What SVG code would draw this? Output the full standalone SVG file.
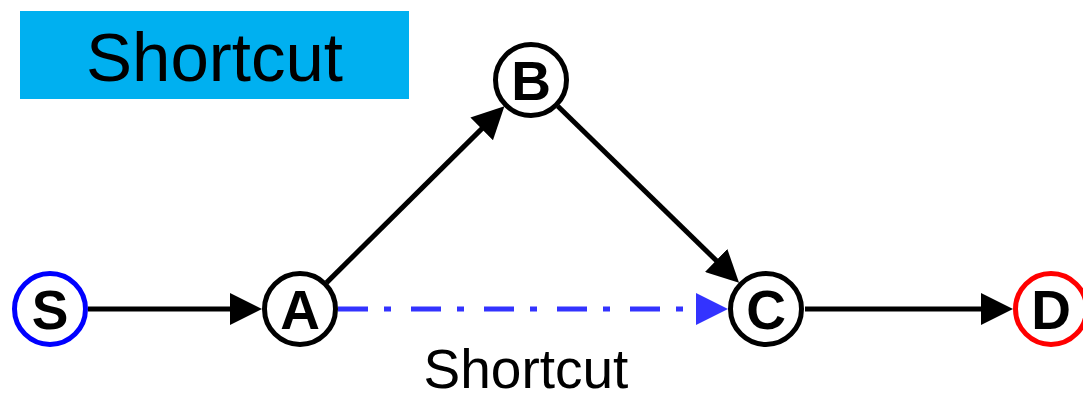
<svg xmlns="http://www.w3.org/2000/svg" width="1083" height="393" viewBox="0 0 1083 393">
<style>
.node circle{fill:#fff;stroke-width:5}
.node text{font-family:"Liberation Sans",Arial,sans-serif;font-weight:bold;font-size:55px;text-anchor:middle;fill:#000}
.edge{stroke:#000;stroke-width:5;fill:none}
.short{stroke:#3333FF;stroke-width:5;fill:none;stroke-dasharray:30 16 7 20}
.lbl{font-family:"Liberation Sans",Arial,sans-serif;fill:#000;text-anchor:middle}
</style>
<defs>
<marker id="ah" markerUnits="userSpaceOnUse" markerWidth="32" markerHeight="32" viewBox="0 0 32 32" refX="22" refY="16" orient="auto"><path d="M0,0 L32,16 L0,32 z" fill="#000"/></marker>
<marker id="ahb" markerUnits="userSpaceOnUse" markerWidth="32" markerHeight="32" viewBox="0 0 32 32" refX="22" refY="16" orient="auto"><path d="M0,0 L32,16 L0,32 z" fill="#3333FF"/></marker>
</defs>
<g id="title">
<rect x="20" y="11" width="389" height="88" fill="#00B0F0"/>
<text class="lbl" x="214.5" y="81" font-size="69">Shortcut</text>
</g>
<g id="connectors">
<line class="edge" x1="88" y1="309" x2="252" y2="309" marker-end="url(#ah)"/>
<path class="edge" d="M326.6,282.6 L497.3,113.4" marker-end="url(#ah)"/>
<path class="edge" d="M557.9,106.2 L731.9,275.8" marker-end="url(#ah)"/>
<line class="short" x1="338" y1="309" x2="718" y2="309" marker-end="url(#ahb)"/>
<line class="edge" x1="805" y1="309" x2="1003" y2="309" marker-end="url(#ah)"/>
</g>
<text id="shortcut-label" class="lbl" x="526" y="388" font-size="55">Shortcut</text>
<g id="node-S" class="node"><circle cx="50" cy="309" r="35.5" stroke="#0000FF"/><text x="50" y="329">S</text></g>
<g id="node-A" class="node"><circle cx="300" cy="309" r="35.5" stroke="#000"/><text x="300" y="329">A</text></g>
<g id="node-B" class="node"><circle cx="531" cy="80" r="35.5" stroke="#000"/><text x="531" y="100">B</text></g>
<g id="node-C" class="node"><circle cx="766" cy="309" r="35.5" stroke="#000"/><text x="766" y="329">C</text></g>
<g id="node-D" class="node"><circle cx="1051" cy="309" r="35.5" stroke="#FF0000"/><text x="1051" y="329">D</text></g>
</svg>
